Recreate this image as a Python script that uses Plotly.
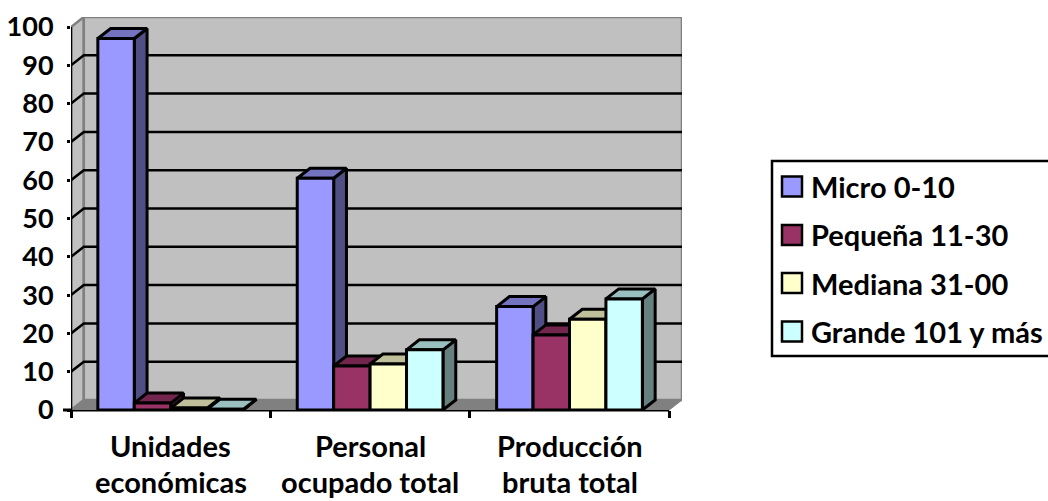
import plotly.graph_objects as go

# Chart data
categories_top = ["Unidades", "Personal", "Producción"]
categories_bottom = ["económicas", "ocupado total", "bruta total"]
series_names = ["Micro 0-10", "Pequeña 11-30", "Mediana 31-00", "Grande 101 y más"]
micro = [97, 60.5, 27]
pequena = [1.8, 11.5, 19.6]
mediana = [0.5, 12, 23.7]
grande = [0.2, 15.7, 29]
y_ticks = [0, 10, 20, 30, 40, 50, 60, 70, 80, 90, 100]

# Face colours per series: front, top, side
front_colors = ["#9999FF", "#993366", "#FFFFCC", "#CCFFFF"]
top_colors = ["#7373BF", "#73264D", "#BFBF99", "#99BFBF"]
side_colors = ["#4F4F85", "#4D1A33", "#808066", "#668080"]

# Page geometry of the plot box, in pixels
WIDTH, HEIGHT = 1048, 501
LEFT, RIGHT, TOP, BOTTOM = 71, 682, 17, 410
UNIT_PX = 3.83
CAT_PX = 199.4
DX = (RIGHT - LEFT) / CAT_PX - 3      # depth of the 3D box along x, in categories
DY = (BOTTOM - TOP) / UNIT_PX - 100   # depth of the 3D box along y, in value units
BAR_W = 0.1827
GROUP_START = 0.1346

INK = "#000000"
WALL = "#C0C0C0"
EDGE = "#808080"
FONT = dict(family="Lato", size=29, color=INK, weight=700)
TICK_FONT = dict(family="Lato", size=27, color=INK, weight=700)


def px_x(px):
    return (px - LEFT) / (RIGHT - LEFT)


def px_y(px):
    return (BOTTOM - px) / (BOTTOM - TOP)


def polygon(points):
    return "M" + "L".join(f"{x},{y}" for x, y in points) + "Z"


fig = go.Figure()

# Walls and floor of the 3D box
shapes = [
    dict(type="path", xref="x", yref="y", layer="below", fillcolor=WALL,
         line=dict(color=EDGE, width=2.5),
         path=polygon([(0, 0), (DX, DY), (DX, 100 + DY), (0, 100)])),
    dict(type="path", xref="x", yref="y", layer="below", fillcolor=WALL,
         line=dict(color=EDGE, width=2.5),
         path=polygon([(DX, DY), (3 + DX, DY), (3 + DX, 100 + DY), (DX, 100 + DY)])),
    dict(type="path", xref="x", yref="y", layer="below", fillcolor=EDGE,
         line=dict(color=EDGE, width=1),
         path=polygon([(0, 0), (3, 0), (3 + DX, DY), (DX, DY)])),
]

# Gridlines run across the side wall and the back wall
for tick in y_ticks[1:-1]:
    shapes.append(dict(type="path", xref="x", yref="y", layer="below",
                       line=dict(color=INK, width=2.5),
                       path=f"M0,{tick}L{DX},{tick + DY}L{3 + DX},{tick + DY}"))

# Front axis lines; the baseline runs a little past the value axis on the left
shapes.append(dict(type="line", xref="x", yref="y", layer="below", x0=0, x1=0, y0=0, y1=100,
                   line=dict(color=INK, width=2.5)))
shapes.append(dict(type="line", xref="paper", yref="paper", layer="below",
                   x0=px_x(63), x1=px_x(LEFT + 3 * CAT_PX), y0=0, y1=0,
                   line=dict(color=INK, width=3)))

# Bars: each series gets its top and side faces, then its front faces over them
all_series = [micro, pequena, mediana, grande]
for s, values in enumerate(all_series):
    lefts = [c + GROUP_START + s * BAR_W for c in range(3)]
    for x0, value in zip(lefts, values):
        x1 = x0 + BAR_W
        top_x = [x0, x1, x1 + DX, x0 + DX, x0]
        top_y = [value, value, value + DY, value + DY, value]
        side_x = [x1, x1 + DX, x1 + DX, x1, x1]
        side_y = [0, DY, value + DY, value, 0]
        for xs, ys, color in ((side_x, side_y, side_colors[s]), (top_x, top_y, top_colors[s])):
            fig.add_trace(go.Scatter(x=xs, y=ys, mode="lines", fill="toself", fillcolor=color,
                                     line=dict(color=INK, width=3), showlegend=False,
                                     hoverinfo="skip", zorder=2 * s, cliponaxis=False))
    fig.add_trace(go.Bar(x=lefts, y=values, width=BAR_W, offset=0, name=series_names[s],
                         marker=dict(color=front_colors[s], line=dict(color=INK, width=3)),
                         showlegend=False, zorder=2 * s + 1, cliponaxis=False))

# Two-line category labels with generous leading
annotations = []
for c in range(3):
    annotations.append(dict(x=c + 0.5, y=0, xref="x", yref="paper", yshift=-35,
                            xanchor="center", yanchor="middle",
                            text=categories_top[c], showarrow=False, font=FONT))
    annotations.append(dict(x=c + 0.5, y=0, xref="x", yref="paper", yshift=-71,
                            xanchor="center", yanchor="middle",
                            text=categories_bottom[c], showarrow=False, font=FONT))

# Legend box, swatches and entries
SWATCH_ROWS = [186.5, 235, 283, 331.5]
TEXT_ROWS = [186, 235, 283, 331]
shapes.append(dict(type="rect", xref="paper", yref="paper", x0=px_x(772), x1=px_x(1060),
                   y0=px_y(356), y1=px_y(161), line=dict(color=INK, width=2.5)))
for s, (swatch_y, text_y) in enumerate(zip(SWATCH_ROWS, TEXT_ROWS)):
    shapes.append(dict(type="rect", xref="paper", yref="paper",
                       x0=px_x(782), x1=px_x(802), y0=px_y(swatch_y + 10), y1=px_y(swatch_y - 10),
                       fillcolor=front_colors[s], line=dict(color=INK, width=2.5)))
    annotations.append(dict(x=px_x(809), y=px_y(text_y), xref="paper", yref="paper",
                            xanchor="left", yanchor="middle",
                            text=series_names[s], showarrow=False, font=FONT))

fig.update_layout(
    width=WIDTH, height=HEIGHT, autosize=False,
    margin=dict(l=LEFT, r=WIDTH - RIGHT, t=TOP, b=HEIGHT - BOTTOM, pad=0),
    paper_bgcolor="#FFFFFF", plot_bgcolor="#FFFFFF",
    barmode="overlay", showlegend=False, font=FONT,
    shapes=shapes, annotations=annotations,
    xaxis=dict(range=[0, 3 + DX], tickvals=[0, 1, 2, 3], ticktext=["", "", "", ""],
               ticks="outside", ticklen=7, tickwidth=2.5, tickcolor=INK, automargin=False,
               showgrid=False, zeroline=False, showline=False),
    yaxis=dict(range=[0, 100 + DY], tickvals=y_ticks, ticks="outside", ticklen=3,
               tickwidth=2.5, tickcolor=INK, tickfont=TICK_FONT, ticklabelstandoff=8,
               automargin=False, showgrid=False, zeroline=False, showline=False),
)

fig.write_html("out.html", config=dict(displayModeBar=False))
